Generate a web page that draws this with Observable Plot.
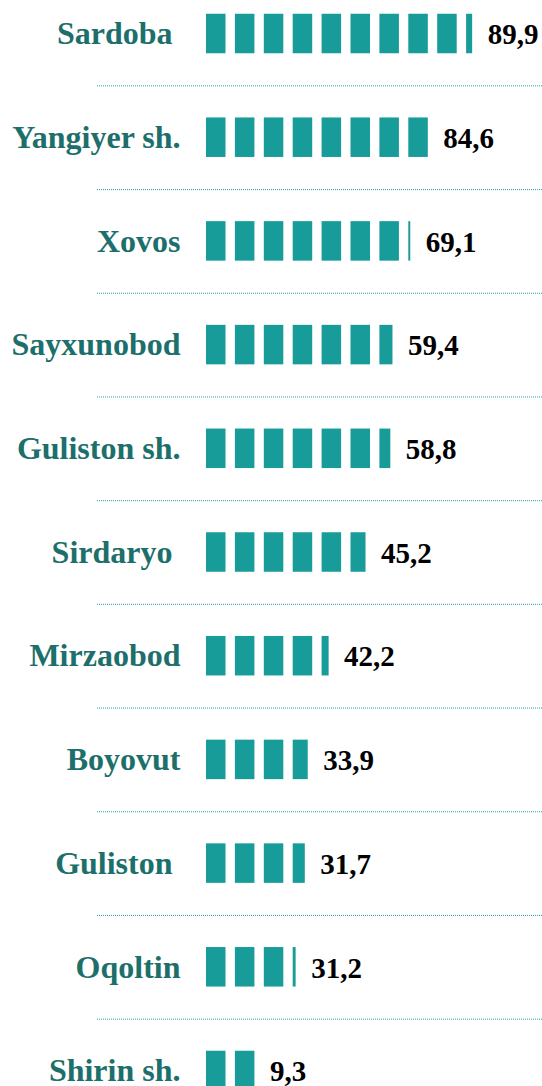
<!DOCTYPE html>
<html><head><meta charset="utf-8">
<script src="https://cdn.jsdelivr.net/npm/d3@7"></script>
<script src="https://cdn.jsdelivr.net/npm/@observablehq/plot@0.6"></script>
<style>html,body{margin:0;padding:0;background:#fff;overflow:hidden}</style>
</head><body><div id="chart"></div>
<script>
// District names (display labels; a trailing no-break space as in the source layout)
const districts = ["Sardoba\u00a0", "Yangiyer sh.", "Xovos", "Sayxunobod", "Guliston sh.", "Sirdaryo\u00a0", "Mirzaobod", "Boyovut", "Guliston\u00a0", "Oqoltin", "Shirin sh."];
// Printed values
const values = [89.9, 84.6, 69.1, 59.4, 58.8, 45.2, 42.2, 33.9, 31.7, 31.2, 9.3];
// Pictogram length in blocks
const blocks = [9.31, 8.0, 7.1, 6.67, 6.56, 5.77, 4.36, 3.77, 3.62, 3.15, 2.0];

const BLOCK = 0.675;          // share of a block slot filled by the block
const BAR_H = 39.5 / 103.7;   // block height in row units
const SERIF = "'Liberation Serif', 'Times New Roman', Times, 'DejaVu Serif', serif";

const rows = districts.map((name, i) => {
  const u = blocks[i];
  const n = Math.ceil(u);
  const end = (n - 1) + (u - (n - 1)) * BLOCK;
  return {i, name, value: values[i], end, label: values[i].toFixed(1).replace(".", ",")};
});
const segments = [];
rows.forEach((r, i) => {
  const u = blocks[i];
  for (let k = 0; k < Math.ceil(u); k++) {
    const f = Math.min(1, u - k);
    segments.push({i, x1: k, x2: k + f * BLOCK});
  }
});
const seps = d3.range(rows.length - 1).map(i => i + 0.5);

const chart = Plot.plot({
  width: 542, height: 1086,
  marginLeft: 97, marginRight: 0, marginTop: 0, marginBottom: 0,
  style: {fontFamily: SERIF},
  x: {domain: [0, 1], range: [206, 234.9], axis: null},
  y: {domain: [0, 10], range: [33.5, 1070.5], axis: null},
  marks: [
    Plot.ruleY(seps, {stroke: "#22a39e", strokeWidth: 1, strokeDasharray: "1,1"}),
    Plot.rect(segments, {x1: "x1", x2: "x2", y1: d => d.i - BAR_H / 2, y2: d => d.i + BAR_H / 2, fill: "#179c99"}),
    Plot.text(rows, {x: 0, y: "i", text: "name", textAnchor: "end", dx: -26, fill: "#1c6f6b",
      fontFamily: SERIF, fontWeight: "bold", fontSize: 32}),
    Plot.text(rows, {x: "end", y: "i", text: "label", textAnchor: "start", dx: 15, dy: 1, fill: "#000",
      fontFamily: SERIF, fontWeight: "bold", fontSize: 29})
  ]
});
document.getElementById("chart").appendChild(chart);
</script>
</body></html>
